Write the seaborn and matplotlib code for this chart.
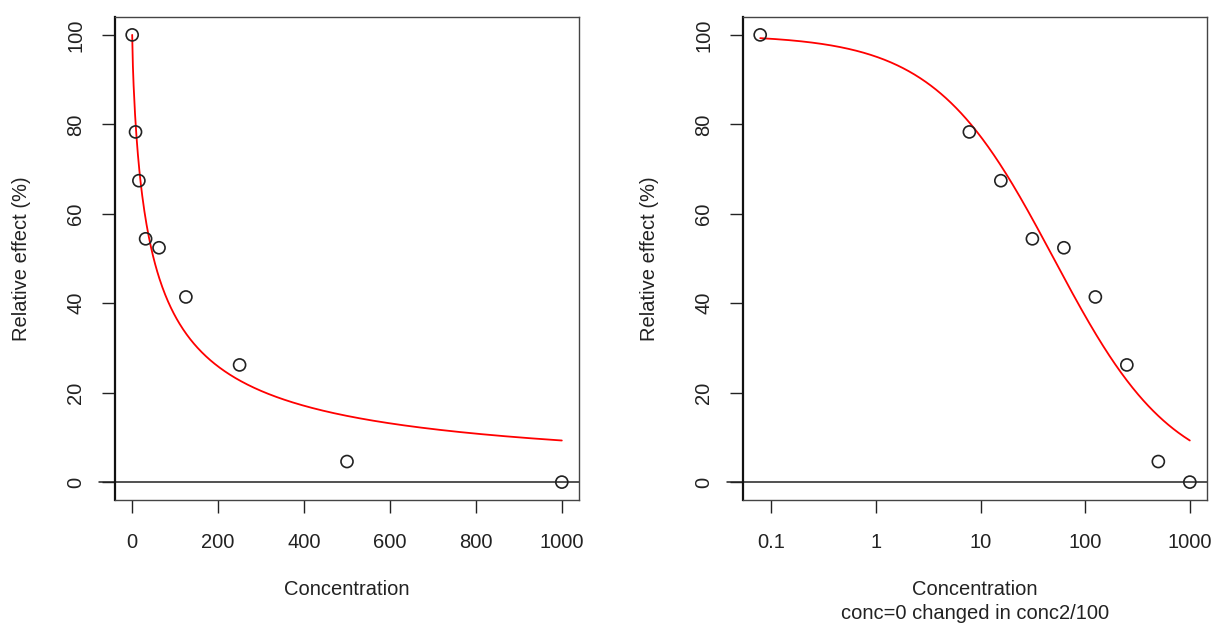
import matplotlib
matplotlib.use("Agg")
import matplotlib.pyplot as plt
import numpy as np
import pandas as pd
import seaborn as sns

# observed points
conc = [0, 7.8, 15.6, 31.25, 62.5, 125, 250, 500, 1000]
effect = [100, 78.3, 67.4, 54.4, 52.4, 41.4, 26.2, 4.6, 0]
# concentration 0 replaced by conc[1]/100 for the log axis
conc_log = [7.8 / 100] + conc[1:]

# log-logistic fit
ec50 = 50.0
slope = 0.76

log_ticks = [0.1, 1, 10, 100, 1000]
log_tick_labels = ["0.1", "1", "10", "100", "1000"]
lin_ticks = [0, 200, 400, 600, 800, 1000]
y_ticks = [0, 20, 40, 60, 80, 100]


def fit_curve(x):
    x = np.asarray(x, dtype=float)
    return 100.0 / (1.0 + (x / ec50) ** slope)


sns.set_theme(style="white")
plt.rcParams["font.family"] = ["Liberation Sans", "DejaVu Sans"]

fig = plt.figure(figsize=(12.16, 6.27), dpi=100)
ax1 = fig.add_axes([115 / 1216, 1 - 500 / 627, 464 / 1216, 483 / 627])
ax2 = fig.add_axes([743 / 1216, 1 - 500 / 627, 464 / 1216, 483 / 627])

pts_lin = pd.DataFrame({"conc": conc, "effect": effect})
pts_log = pd.DataFrame({"conc": conc_log, "effect": effect})

xs_lin = np.linspace(0, 1000, 600)
xs_log = np.logspace(np.log10(conc_log[0]), 3, 600)
crv_lin = pd.DataFrame({"conc": xs_lin, "effect": fit_curve(xs_lin)})
crv_log = pd.DataFrame({"conc": xs_log, "effect": fit_curve(xs_log)})

for ax, pts, crv in [(ax1, pts_lin, crv_lin), (ax2, pts_log, crv_log)]:
    ax.axhline(0, xmin=-0.035, xmax=1.0, color="#222222", lw=1.1, clip_on=False, zorder=1)
    sns.lineplot(data=crv, x="conc", y="effect", ax=ax, color="red", lw=1.3, zorder=2)
    sns.scatterplot(data=pts, x="conc", y="effect", ax=ax, marker="o", s=75,
                    facecolor="none", edgecolor="#222222", linewidth=1.2, zorder=3)

ax1.set_xlim(-40, 1040)
ax1.set_xticks(lin_ticks)
ax1.set_xticklabels([str(t) for t in lin_ticks])

ax2.set_xscale("log")
lo = np.log10(conc_log[0])
rng = 3 - lo
ax2.set_xlim(10 ** (lo - 0.04 * rng), 10 ** (3 + 0.04 * rng))
ax2.set_xticks(log_ticks)
ax2.set_xticklabels(log_tick_labels)
ax2.xaxis.set_minor_locator(matplotlib.ticker.NullLocator())

fs = 14.5
for ax in (ax1, ax2):
    ax.set_ylim(-4, 104)
    ax.set_yticks(y_ticks)
    ax.set_yticklabels([str(t) for t in y_ticks])
    ax.tick_params(axis="both", direction="out", length=9.5, width=1, color="#222222",
                   labelsize=fs, labelcolor="#222222", bottom=True, left=True)
    ax.tick_params(axis="x", pad=14)
    ax.tick_params(axis="y", pad=12)
    for lab in ax.get_yticklabels():
        lab.set_rotation(90)
        lab.set_va("center")
    for side in ["top", "right", "bottom"]:
        ax.spines[side].set_color("#444444")
        ax.spines[side].set_linewidth(1.0)
    ax.spines["left"].set_color("#111111")
    ax.spines["left"].set_linewidth(1.6)
    ax.set_ylabel("Relative effect (%)", fontsize=fs, color="#222222")
    ax.yaxis.set_label_coords(-0.18, 0.5)

ax1.set_xlabel("Concentration", fontsize=fs, color="#222222", va="top")
ax1.xaxis.set_label_coords(0.5, -0.165)
ax2.set_xlabel("Concentration\nconc=0 changed in conc2/100", fontsize=fs,
               color="#222222", va="top", linespacing=1.35)
ax2.xaxis.set_label_coords(0.5, -0.165)

plt.savefig("out.png", dpi=100)
plt.close()
